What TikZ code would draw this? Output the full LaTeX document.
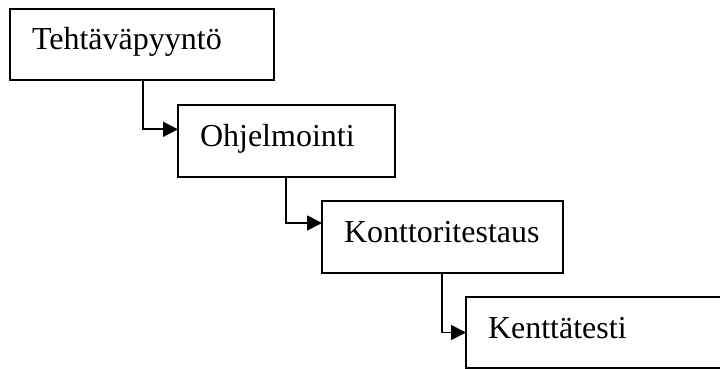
\documentclass[tikz,border=0pt]{standalone}
\usepackage{fontspec}
\setmainfont{Liberation Serif}
\usetikzlibrary{arrows.meta}
\begin{document}
\begin{tikzpicture}[x=1pt,y=-1pt,
  stage/.style={draw, line width=1.8pt, rectangle, anchor=north west,
    outer sep=0pt, inner xsep=22pt, inner ysep=0pt, align=left,
    text height=20pt, text depth=9pt,
    font=\fontsize{32}{37}\selectfont},
  flow/.style={line width=1.8pt, -{Triangle[length=15pt,width=15pt]}}]
  \useasboundingbox (0,0) rectangle (720,369);
  \clip (0,0) rectangle (720,369);
  \fill[white] (0,0) rectangle (720,369);

  % process stages, stepping down to the right
  \node[stage, text width=220pt, minimum height=71pt] (s1) at (10,9) {Tehtäväpyyntö};
  \node[stage, text width=173pt, minimum height=72pt] (s2) at (178,105) {Ohjelmointi};
  \node[stage, text width=197pt, minimum height=72pt] (s3) at (322,201) {Konttoritestaus};
  \node[stage, text width=256pt, minimum height=71pt] (s4) at (466,297) {Kenttätesti};

  % elbow connectors between consecutive stages
  \draw[flow] ([xshift=132.7pt]s1.south west) |- ([yshift=11.7pt]s2.west);
  \draw[flow] ([xshift=108pt]s2.south west) |- ([yshift=14pt]s3.west);
  \draw[flow] ([xshift=120.3pt]s3.south west) |- (s4.west);
\end{tikzpicture}
\end{document}
